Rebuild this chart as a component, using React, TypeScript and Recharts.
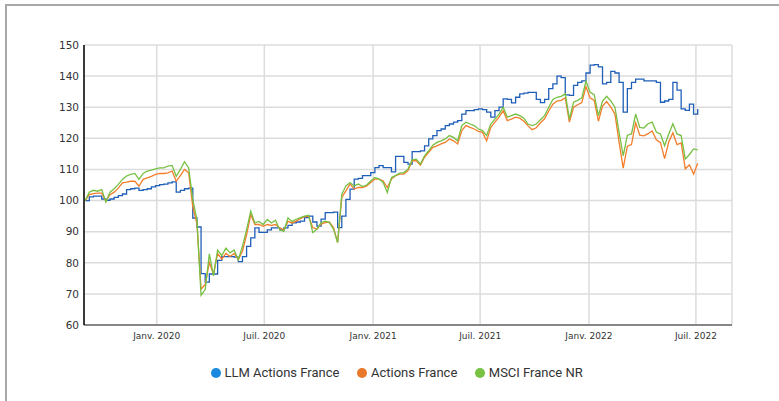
import React from "react";
import { LineChart, Line, XAxis, YAxis, CartesianGrid } from "recharts";

const startDate = Date.UTC(2019, 8, 2);
const WEEK = 7 * 86400000;

const llm = [
  100, 101.2, 101.4, 101.4, 100.5, 100.1, 100.5, 101, 101.6, 102.1,
  103.5, 103.8, 104, 103.3, 103.5, 103.8, 104.4, 104.8, 105.1, 105.3,
  105.7, 106, 102.7, 103.3, 103.8, 104, 94.4, 91.5, 76.5, 73.8,
  76.4, 76.4, 80.8, 82, 82, 82, 81.8, 80.4, 82, 85.3,
  88, 91.2, 89.8, 89.8, 90.6, 91.2, 91.2, 90.6, 91.2, 92,
  92.8, 93.1, 93.4, 94.5, 95, 93.1, 91.8, 94, 96.1, 96.1,
  96.3, 91.3, 95, 100.4, 103.7, 106.9, 107.1, 108, 108, 109,
  110.6, 111.2, 110.6, 110.6, 109.2, 114.2, 114.2, 112.3, 111.7, 115.7,
  115.7, 116, 117.6, 119.8, 120.9, 122.5, 123, 124.1, 124.6, 125.2,
  125.7, 127.8, 128.9, 128.9, 129.2, 129.5, 129.2, 128.4, 126.8, 128.9,
  130, 132.7, 132.5, 131.4, 133.2, 134.3, 134.5, 134.8, 134.8, 132.5,
  131.5, 132.5, 136, 137.5, 140, 139.5, 134, 133.8, 137, 138,
  138.5, 141, 143.5, 143.7, 143, 137.5, 138, 141.5, 141, 138,
  128.4, 136, 138, 139, 139, 138.5, 138.5, 138.5, 138, 131.6,
  132, 132.5, 138, 135.5, 129.5, 129, 131, 127.8, 129.4,
];

const actions = [
  100, 101.9, 102.2, 102.4, 102.4, 99.8, 101.9, 102.7, 104, 105.7,
  105.9, 106.2, 106.2, 104.6, 106.8, 107.3, 107.8, 108.4, 108.7, 108.7,
  108.9, 109.5, 106.2, 108, 110, 108.9, 98, 92.6, 71.5, 73,
  80.1, 76.4, 83, 81.2, 83, 82, 83, 81, 83.7, 89,
  95.5, 92.3, 92.3, 91.7, 92.3, 92, 92.3, 91.2, 90.6, 93.3,
  92.8, 93.4, 94.2, 94.8, 95, 91.3, 90.8, 92.4, 92.9, 93.1,
  91.3, 86.5, 101, 103.1, 105.3, 103.7, 104.2, 104.2, 104.7, 105.8,
  106.9, 106.9, 106.3, 104.2, 106.9, 108, 108.5, 108.5, 109.6, 112.8,
  112.8, 111.4, 113.9, 115.5, 117.1, 117.6, 118.2, 118.7, 119.8, 119.2,
  118.2, 122.5, 124.1, 123.5, 123, 122.2, 121.9, 119.2, 123.5, 125.2,
  126.8, 128.9, 125.7, 126.2, 126.8, 126.5, 125.5, 124, 122.8, 123.4,
  125, 126.3, 128.8, 131, 132, 132.2, 133, 125.2, 130, 130.8,
  131.5, 136.6, 133, 132.2, 125.5, 130.4, 131.8, 130, 127.8, 118.8,
  110.4, 117.5, 118, 125, 121, 120.8, 121.5, 122.4, 119.5, 118.6,
  113.5, 118.8, 121.8, 118, 118.5, 110.2, 111.5, 108.5, 112,
];

const msci = [
  100, 102.7, 103.3, 103, 103.5, 99.5, 102.7, 103.8, 105.2, 106.8,
  107.9, 108.4, 108.7, 106.8, 108.7, 109.5, 109.8, 110.2, 110.5, 110.5,
  111.1, 111.3, 107.8, 110, 112.5, 110.5, 100.3, 93.8, 69.5, 71.4,
  82.9, 75.8, 84.1, 82.3, 84.7, 83.2, 84.1, 81, 85.3, 90.6,
  96.6, 92.8, 93.3, 92.3, 93.9, 92.8, 93.7, 90.6, 90.1, 94.4,
  93.3, 94, 94.5, 95, 95.3, 89.7, 90.8, 92.9, 93.4, 92.9,
  90.8, 86.5, 102, 104.7, 105.8, 104.7, 105.3, 104.5, 105, 106.3,
  107.4, 106.9, 105.8, 102.6, 107.4, 108, 108.8, 109, 110.1, 113.1,
  113.3, 111.7, 114.4, 116, 117.8, 118.7, 119.2, 119.8, 120.9, 120.3,
  119.2, 124.1, 125.2, 124.6, 124.1, 123, 122.5, 120.9, 124.6, 126.2,
  127.8, 130, 126.8, 127.3, 127.8, 127.3, 126.5, 124.6, 124.1, 124.6,
  126, 127.3, 130, 132.5, 133.2, 133.5, 134.3, 126.2, 131.6, 132.2,
  133, 138.4, 134.8, 134, 127.3, 132, 133.5, 132, 130, 121.9,
  114.4, 121, 121.4, 127.8, 123.5, 123.3, 124.7, 125.2, 122, 121.4,
  117.6, 121.4, 124.7, 121.4, 120.9, 113.3, 114.8, 116.6, 116.3,
];

const seriesNames = ["LLM Actions France", "Actions France", "MSCI France NR"];
const lineColors = ["#1f5fb8", "#f47d2b", "#76c043"];
const legendColors = ["#1a8ae0", "#e8782a", "#79c142"];

const xTicks = [
  Date.UTC(2020, 0, 1),
  Date.UTC(2020, 6, 1),
  Date.UTC(2021, 0, 1),
  Date.UTC(2021, 6, 1),
  Date.UTC(2022, 0, 1),
  Date.UTC(2022, 6, 1),
];
const yTicks = [60, 70, 80, 90, 100, 110, 120, 130, 140, 150];
const xDomain = [Date.UTC(2019, 7, 31), Date.UTC(2022, 7, 31)];

const data = llm.map((v, i) => ({
  date: startDate + i * WEEK,
  llm: v,
  actions: actions[i],
  msci: msci[i],
}));

const fmtDate = (t: number) => {
  const d = new Date(t);
  const m = d.getUTCMonth() === 0 ? "Janv." : "Juil.";
  return `${m} ${d.getUTCFullYear()}`;
};

export default function App() {
  return (
    <div
      style={{
        position: "absolute",
        left: 0,
        top: 0,
        width: 779,
        height: 401,
        overflow: "hidden",
        background: "#fff",
      }}
    >
      <div
        style={{
          position: "absolute",
          left: 5,
          top: 4,
          width: 900,
          height: 500,
          borderLeft: "2px solid #a8a8a8",
          borderTop: "2px solid #a8a8a8",
        }}
      />
      <div style={{ position: "absolute", left: 0, top: 0 }}>
        <LineChart
          width={779}
          height={401}
          data={data}
          margin={{ top: 45, right: 47, bottom: 46, left: 0 }}
        >
          <CartesianGrid stroke="#dcdcdc" strokeWidth={1.5} />
          <XAxis
            dataKey="date"
            type="number"
            scale="time"
            domain={xDomain}
            ticks={xTicks}
            tickFormatter={fmtDate}
            height={30}
            tickLine={false}
            tickSize={4}
            tickMargin={3.5}
            axisLine={{ stroke: "#666", strokeWidth: 1.5 }}
            tick={{ fontSize: 9, fill: "#333", fontFamily: "DejaVu Sans" }}
          />
          <YAxis
            type="number"
            domain={[60, 150]}
            ticks={yTicks}
            width={84}
            tickLine={false}
            tickSize={5}
            tickMargin={0}
            axisLine={{ stroke: "#000", strokeWidth: 1.5 }}
            tick={{ fontSize: 10.5, fill: "#333", fontFamily: "DejaVu Sans" }}
          />
          <Line
            dataKey="llm"
            type="stepAfter"
            stroke={lineColors[0]}
            strokeWidth={1.3}
            dot={false}
            isAnimationActive={false}
          />
          <Line
            dataKey="actions"
            type="linear"
            stroke={lineColors[1]}
            strokeWidth={1.3}
            dot={false}
            isAnimationActive={false}
          />
          <Line
            dataKey="msci"
            type="linear"
            stroke={lineColors[2]}
            strokeWidth={1.3}
            dot={false}
            isAnimationActive={false}
          />
        </LineChart>
      </div>
      <div
        style={{
          position: "absolute",
          left: 211,
          top: 365,
          display: "flex",
          alignItems: "center",
          gap: 18,
          fontFamily: "Roboto",
          fontSize: 13,
          color: "#333",
          lineHeight: "16px",
          whiteSpace: "nowrap",
        }}
      >
        {seriesNames.map((n, i) => (
          <div key={n} style={{ display: "flex", alignItems: "center" }}>
            <span
              style={{
                display: "inline-block",
                width: 10,
                height: 10,
                borderRadius: 5,
                background: legendColors[i],
                marginRight: 3.5,
              }}
            />
            <span>{n}</span>
          </div>
        ))}
      </div>
    </div>
  );
}
